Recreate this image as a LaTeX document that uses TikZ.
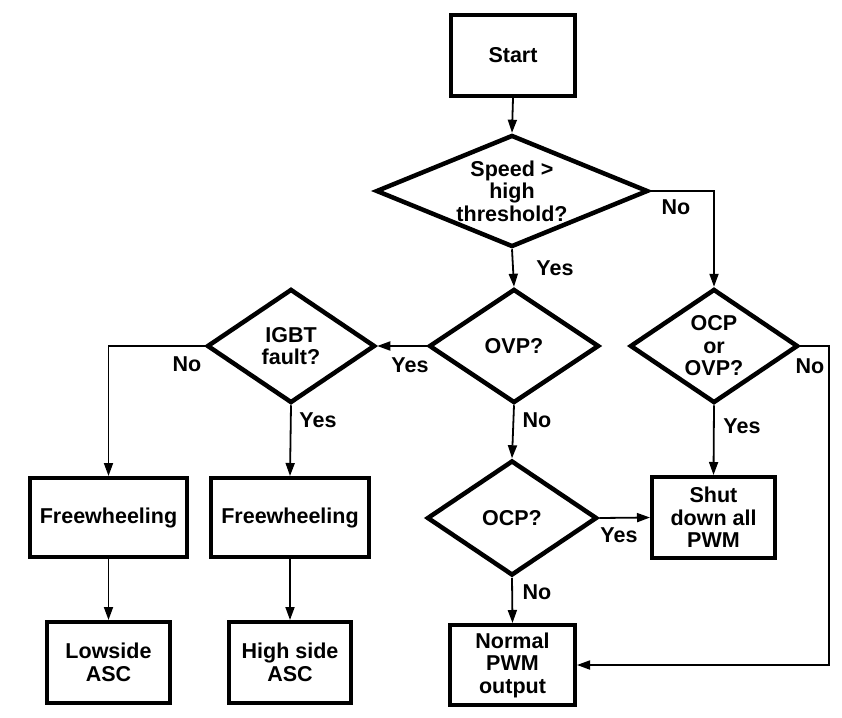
\documentclass[tikz,border=0pt]{standalone}
\usepackage{fontspec}
\setmainfont{Liberation Sans}
\usetikzlibrary{shapes.geometric,arrows.meta}
\tikzset{
  every node/.style={font=\fontsize{21.5}{22.5}\selectfont\bfseries},
  procbox/.style={draw, line width=4pt, rectangle, inner sep=0pt, align=center},
  decision/.style={draw, line width=4.5pt, diamond, inner sep=0pt, align=center, aspect=1.5},
  conn/.style={line width=1.8pt, -{Triangle[length=13pt,width=9pt]}},
  lbl/.style={inner sep=0pt}
}
\begin{document}
\begin{tikzpicture}[x=1pt,y=-1pt]
\useasboundingbox[fill=white] (0,0) rectangle (842,717);

\node[procbox, minimum width=124pt, minimum height=81pt] (start) at (513,55.5) {Start};
\node[decision, aspect=2.4, minimum width=272pt, minimum height=112pt] (speed) at (512,191) {Speed >\\high\\threshold?};
\node[decision, minimum width=170pt, minimum height=114pt] (ovp) at (514,346) {OVP?};
\node[decision, minimum width=168pt, minimum height=114pt] (igbt) at (291,346) {IGBT\\fault?};
\node[decision, minimum width=168pt, minimum height=114pt] (ocpovp) at (714,346) {OCP\\or\\OVP?};
\node[decision, minimum width=170pt, minimum height=115pt] (ocp) at (512,518) {OCP?};
\node[procbox, minimum width=123pt, minimum height=81pt] (shut) at (713.5,517.5) {Shut\\down all\\PWM};
\node[procbox, minimum width=157pt, minimum height=79pt] (fw1) at (108.5,517.5) {Freewheeling};
\node[procbox, minimum width=158pt, minimum height=79pt] (fw2) at (290,517.5) {Freewheeling};
\node[procbox, minimum width=123pt, minimum height=81pt] (low) at (108.5,662.5) {Lowside\\ASC};
\node[procbox, minimum width=122pt, minimum height=81pt] (high) at (290,662.5) {High side\\ASC};
\node[procbox, minimum width=125pt, minimum height=80pt] (normal) at (512.5,665) {Normal\\PWM\\output};
\coordinate (rw) at (829,346);

\draw[conn] (start.south) -- (speed.north);
\draw[conn] (speed.east) -| (ocpovp.north);
\draw[conn] (speed.south) -- (ovp.north);
\draw[conn] (ovp.west) -- (igbt.east);
\draw[conn] (igbt.west) -| (fw1.north);
\draw[conn] (igbt.south) -- (fw2.north);
\draw[conn] (ovp.south) -- (ocp.north);
\draw[conn] (ocp.east) -- (shut.west);
\draw[conn] (ocpovp.south) -- (shut.north);
\draw[conn] (ocpovp.east) -- (rw) |- (normal.east);
\draw[conn] (ocp.south) -- (normal.north);
\draw[conn] (fw1.south) -- (low.north);
\draw[conn] (fw2.south) -- (high.north);

\node[lbl] (l1) at (676,207) {No};
\node[lbl] (l2) at (555,268) {Yes};
\node[lbl] (l3) at (410,365) {Yes};
\node[lbl] (l4) at (187,364) {No};
\node[lbl] (l5) at (318,420) {Yes};
\node[lbl] (l6) at (537,420) {No};
\node[lbl] (l7) at (810,366) {No};
\node[lbl] (l8) at (742,426) {Yes};
\node[lbl] (l9) at (619,535) {Yes};
\node[lbl] (l10) at (537,592) {No};
\end{tikzpicture}
\end{document}
